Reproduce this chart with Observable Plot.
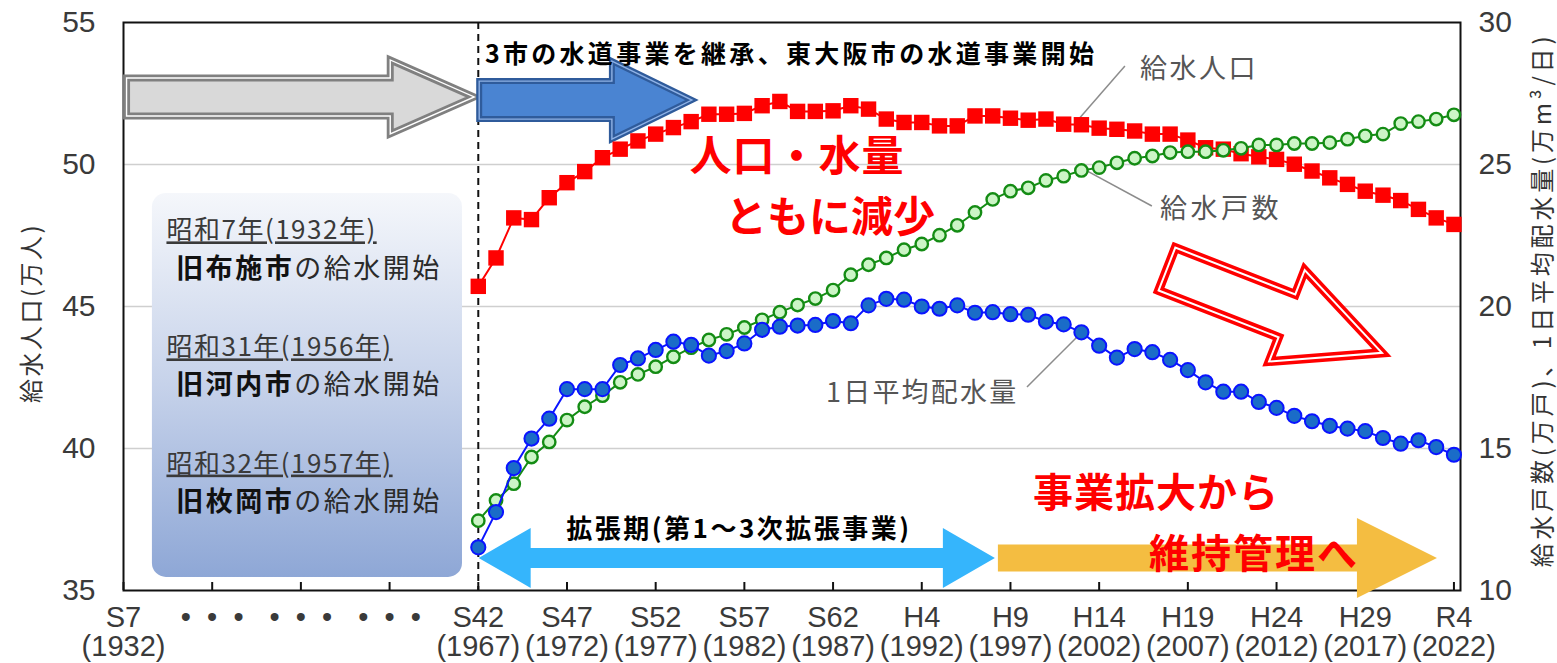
<!DOCTYPE html>
<html><head><meta charset="utf-8">
<script src="https://cdn.jsdelivr.net/npm/d3@7"></script>
<script src="https://cdn.jsdelivr.net/npm/@observablehq/plot@0.6"></script>
<style>
html,body{margin:0;padding:0;background:#fff;}
#chart svg{display:block;}
</style></head><body><div id="chart"></div>
<script>
// ---------------- DATA ----------------
const years = [1967,1968,1969,1970,1971,1972,1973,1974,1975,1976,
  1977,1978,1979,1980,1981,1982,1983,1984,1985,1986,
  1987,1988,1989,1990,1991,1992,1993,1994,1995,1996,
  1997,1998,1999,2000,2001,2002,2003,2004,2005,2006,
  2007,2008,2009,2010,2011,2012,2013,2014,2015,2016,
  2017,2018,2019,2020,2021,2022];
// 給水人口 (万人) – left axis
const population = [45.71,46.71,48.12,48.06,48.83,49.36,49.75,50.24,50.54,50.83,
  51.07,51.30,51.51,51.77,51.77,51.80,52.07,52.22,51.87,51.87,
  51.89,52.07,51.95,51.60,51.48,51.48,51.36,51.36,51.71,51.71,
  51.63,51.56,51.60,51.42,51.40,51.28,51.24,51.18,51.07,51.07,
  50.86,50.59,50.54,50.38,50.27,50.18,50.01,49.77,49.53,49.30,
  49.06,48.92,48.73,48.42,48.12,47.89];
// 給水戸数 (万戸) – right axis
const households = [12.46,13.17,13.76,14.70,15.23,16.00,16.47,16.86,17.33,17.61,
  17.88,18.23,18.55,18.82,19.02,19.26,19.53,19.80,20.05,20.28,
  20.58,21.12,21.47,21.71,22.00,22.20,22.51,22.86,23.31,23.77,
  24.06,24.18,24.44,24.59,24.79,24.89,25.06,25.22,25.30,25.42,
  25.45,25.45,25.50,25.57,25.69,25.69,25.74,25.74,25.77,25.89,
  26.01,26.07,26.44,26.51,26.60,26.75];
// 1日平均配水量 (万m3/日) – right axis
const distribution = [11.52,12.76,14.31,15.35,16.05,17.09,17.09,17.09,17.94,18.17,
  18.47,18.76,18.65,18.27,18.43,18.70,19.18,19.29,19.33,19.35,
  19.49,19.41,20.04,20.27,20.24,20.00,19.92,20.04,19.78,19.80,
  19.73,19.71,19.47,19.37,19.09,18.62,18.20,18.50,18.39,18.12,
  17.76,17.33,17.00,17.00,16.64,16.43,16.15,15.96,15.80,15.70,
  15.61,15.37,15.17,15.29,15.05,14.78];
// x ticks (the S7→S42 span is compressed onto four tick intervals)
const tickPos = [1947,1952,1957,1962,1967,1972,1977,1982,1987,1992,1997,2002,2007,2012,2017,2022];
const eraLabels = ["S7","•\u00a0\u00a0•\u00a0\u00a0•","•\u00a0\u00a0•\u00a0\u00a0•","•\u00a0\u00a0•\u00a0\u00a0•",
  "S42","S47","S52","S57","S62","H4","H9","H14","H19","H24","H29","R4"];
const yearLabels = ["(1932)","","","","(1967)","(1972)","(1977)","(1982)","(1987)","(1992)",
  "(1997)","(2002)","(2007)","(2012)","(2017)","(2022)"];
const leftTicks = [35,40,45,50,55];
const gridTicks = [40,45,50];
const rightOffset = 25; // right axis value = left axis value - 25

// ---------------- ANNOTATIONS ----------------
const boxNotes = [
  {date: "昭和7年(1932年)", city: "旧布施市", rest: "の給水開始"},
  {date: "昭和31年(1956年)", city: "旧河内市", rest: "の給水開始"},
  {date: "昭和32年(1957年)", city: "旧枚岡市", rest: "の給水開始"}
];
const topTitle = "3市の水道事業を継承、東大阪市の水道事業開始";

const popData = years.map((year, i) => ({year, v: population[i]}));
const hhData = years.map((year, i) => ({year, v: households[i] + rightOffset}));
const distData = years.map((year, i) => ({year, v: distribution[i] + rightOffset}));

const CJK = "'Noto Sans CJK JP', 'Noto Sans', sans-serif";

function arrowPts(x0, y0, x1, y1, bh, hh, hl, dbl) {
  const dx = x1 - x0, dy = y1 - y0, L = Math.hypot(dx, dy);
  const ux = dx / L, uy = dy / L, nx = -uy, ny = ux;
  const P = (t, s) => [x0 + ux * t + nx * s, y0 + uy * t + ny * s];
  if (!dbl) return [P(0,bh),P(L-hl,bh),P(L-hl,hh),P(L,0),P(L-hl,-hh),P(L-hl,-bh),P(0,-bh)];
  return [P(0,0),P(hl,hh),P(hl,bh),P(L-hl,bh),P(L-hl,hh),P(L,0),P(L-hl,-hh),P(L-hl,-bh),P(hl,-bh),P(hl,-hh)];
}
const ptsStr = pts => pts.map(p => p.join(",")).join(" ");

function addText(g, x, y, str, o) {
  const t = g.append("text").attr("x", x).attr("y", y)
    .attr("font-family", o.family || CJK)
    .attr("font-size", o.size).attr("fill", o.fill || "#000")
    .attr("font-weight", o.weight || "normal")
    .attr("letter-spacing", o.ls || 0)
    .attr("dominant-baseline", "central")
    .attr("text-anchor", o.anchor || "start");
  if (o.transform) t.attr("transform", o.transform);
  if (o.underline) t.attr("text-decoration", "underline");
  if (Array.isArray(str)) {
    for (const s of str) t.append("tspan").attr("font-weight", s.weight || "normal").attr("fill", s.fill || o.fill).text(s.t);
  } else t.text(str);
  return t;
}

// background box with gradient + its text
function boxMark(index, scales) {
  const {x, y} = scales;
  const g = d3.create("svg:g");
  const grad = g.append("defs").append("linearGradient").attr("id", "boxGrad")
    .attr("x1", 0).attr("y1", 0).attr("x2", 0).attr("y2", 1);
  grad.append("stop").attr("offset", "0%").attr("stop-color", "#f5f7fb");
  grad.append("stop").attr("offset", "50%").attr("stop-color", "#c6d2ea");
  grad.append("stop").attr("offset", "100%").attr("stop-color", "#8ea7d6");
  g.append("rect").attr("x", x(1948.63)).attr("y", y(48.98))
    .attr("width", x(1966.11) - x(1948.63)).attr("height", y(35.46) - y(48.98))
    .attr("rx", 14).attr("fill", "url(#boxGrad)");
  const dateY = [47.75, 43.63, 39.54], cityY = [46.41, 42.32, 38.20];
  boxNotes.forEach((n, i) => {
    addText(g, x(1949.45), y(dateY[i]), n.date, {size: 26, fill: "#3a3a3a", ls: 1.5, underline: true});
    addText(g, x(1950.0), y(cityY[i]), [{t: n.city, weight: "bold", fill: "#111"}, {t: n.rest, fill: "#2a2a2a"}], {size: 27, fill: "#2a2a2a", ls: 2.5});
  });
  return g.node();
}

// block arrows
function arrowMark(index, scales) {
  const {x, y} = scales;
  const g = d3.create("svg:g");
  const poly = (pts, fill, stroke, sw) => g.append("polygon").attr("points", ptsStr(pts))
    .attr("fill", fill).attr("stroke", stroke).attr("stroke-width", sw).attr("stroke-linejoin", "miter");
  // grey arrow (S7 → S42)
  let a = arrowPts(x(1947.2), y(52.36), x(1966.8), y(52.36), 19, 37, 84);
  poly(a, "#d9d9d9", "#808080", 7); poly(a, "none", "#ffffff", 1.4);
  // blue arrow
  a = arrowPts(x(1967.08), y(52.25), x(1979.07), y(52.25), 19, 39, 80);
  poly(a, "#4a84d2", "#2f5b9b", 6); poly(a, "none", "#8fb2e6", 1.4);
  // red hollow arrow (down-right)
  a = arrowPts(x(2005.85), y(46.30), x(2017.97), y(43.35), 23, 49, 102);
  poly(a, "#ffffff", "#ff0000", 9); poly(a, "none", "#ffffff", 2);
  // light blue double arrow
  a = arrowPts(x(1967.05), y(36.13), x(1996.15), y(36.13), 10, 30, 52, true);
  poly(a, "#35b5fc", "none", 0);
  // orange arrow
  a = arrowPts(x(1996.32), y(36.13), x(2021.07), y(36.13), 13.5, 40, 80);
  poly(a, "#f4bd41", "none", 0);
  return g.node();
}

// leader lines for series labels
function leaderMark(index, scales) {
  const {x, y} = scales;
  const g = d3.create("svg:g");
  const seg = (a, b, c, d) => g.append("line").attr("x1", x(a)).attr("y1", y(b)).attr("x2", x(c)).attr("y2", y(d))
    .attr("stroke", "#8c8c8c").attr("stroke-width", 1.5);
  seg(2003.48, 53.45, 2000.83, 51.55);
  seg(2005.0, 48.52, 2000.95, 49.89);
  seg(1997.96, 42.15, 2000.78, 43.91);
  return g.node();
}

// text annotations + axis titles
function textMark(index, scales, values, dims) {
  const {x, y} = scales;
  const g = d3.create("svg:g");
  addText(g, x(1967.4), y(53.94), topTitle, {size: 25, weight: "bold", ls: 3.3});
  addText(g, x(1985.0), y(50.39), "人口・水量", {size: 42, fill: "#ff0000", weight: "bold", ls: 1, anchor: "middle"});
  addText(g, x(1986.85), y(48.27), "ともに減少", {size: 42, fill: "#ff0000", weight: "bold", ls: 0, anchor: "middle"});
  addText(g, x(1998.3), y(38.52), "事業拡大から", {size: 40, fill: "#ff0000", weight: "bold", ls: 1});
  addText(g, x(2004.84), y(36.37), "維持管理へ", {size: 40, fill: "#ff0000", weight: "bold", ls: 2});
  addText(g, x(1981.72), y(37.22), "拡張期(第1～3次拡張事業)", {size: 26, weight: "bold", ls: 2.5, anchor: "middle"});
  addText(g, x(2004.33), y(53.45), "給水人口", {size: 27, fill: "#555", ls: 2.5});
  addText(g, x(2005.46), y(48.49), "給水戸数", {size: 27, fill: "#555", ls: 3.5});
  addText(g, x(1986.63), y(42.04), "1日平均配水量", {size: 27, fill: "#555", ls: 2.2});
  // axis titles
  const cy = (y(35) + y(55)) / 2;
  addText(g, 0, 0, "給水人口(万人)", {size: 24, fill: "#333", ls: 2.5, anchor: "middle", transform: `translate(29,${cy + 7}) rotate(-90)`});
  addText(g, 0, 0, "給水戸数(万戸)、1日平均配水量(万m³/日)", {size: 24, fill: "#333", ls: 3.8, anchor: "middle", transform: `translate(1540,${cy - 6}) rotate(-90)`});
  return g.node();
}

const chart = Plot.plot({
  width: 1557, height: 663,
  marginLeft: 123, marginRight: 97, marginTop: 22, marginBottom: 73,
  x: {domain: [1947, 2022.37]},
  y: {domain: [35, 55]},
  style: {fontFamily: "'Liberation Sans', Arial, sans-serif", background: "#fff", overflow: "visible"},
  marks: [
    Plot.gridY({ticks: gridTicks, stroke: "#cfcfcf", strokeOpacity: 1, strokeWidth: 1.5}),
    boxMark,
    Plot.ruleX([1967], {stroke: "#111", strokeWidth: 2, strokeDasharray: "7,5"}),
    Plot.frame({stroke: "#111", strokeWidth: 2}),
    Plot.tickX(tickPos, {x: d => d, stroke: "#111", strokeWidth: 2, insetTop: 560}),
    arrowMark,
    leaderMark,
    Plot.line(popData, {x: "year", y: "v", stroke: "#ff0000", strokeWidth: 2}),
    Plot.dot(popData, {x: "year", y: "v", symbol: "square", r: 8.7, fill: "#ff0000", stroke: "none"}),
    Plot.line(hhData, {x: "year", y: "v", stroke: "#148c14", strokeWidth: 2}),
    Plot.dot(hhData, {x: "year", y: "v", r: 6.2, fill: "#ccf5c6", stroke: "#148c14", strokeWidth: 2.4}),
    Plot.line(distData, {x: "year", y: "v", stroke: "#0a14ff", strokeWidth: 2}),
    Plot.dot(distData, {x: "year", y: "v", r: 7.1, fill: "#1a6cc8", stroke: "#0a14ff", strokeWidth: 2}),
    textMark,
    Plot.axisX({ticks: tickPos, tickSize: 0, tickPadding: 16, label: null, fontSize: 29, lineHeight: 1.0, color: "#3a3a3a",
      tickFormat: d => { const i = tickPos.indexOf(d); return eraLabels[i] + "\n" + yearLabels[i]; }}),
    Plot.axisY({anchor: "left", ticks: leftTicks, tickSize: 0, tickPadding: 28, label: null, fontSize: 30, color: "#3a3a3a"}),
    Plot.axisY({anchor: "right", ticks: leftTicks, tickSize: 0, tickPadding: 18, label: null, fontSize: 30, color: "#3a3a3a",
      tickFormat: d => String(d - rightOffset)})
  ]
});
document.getElementById("chart").appendChild(chart);
</script>
</body></html>
